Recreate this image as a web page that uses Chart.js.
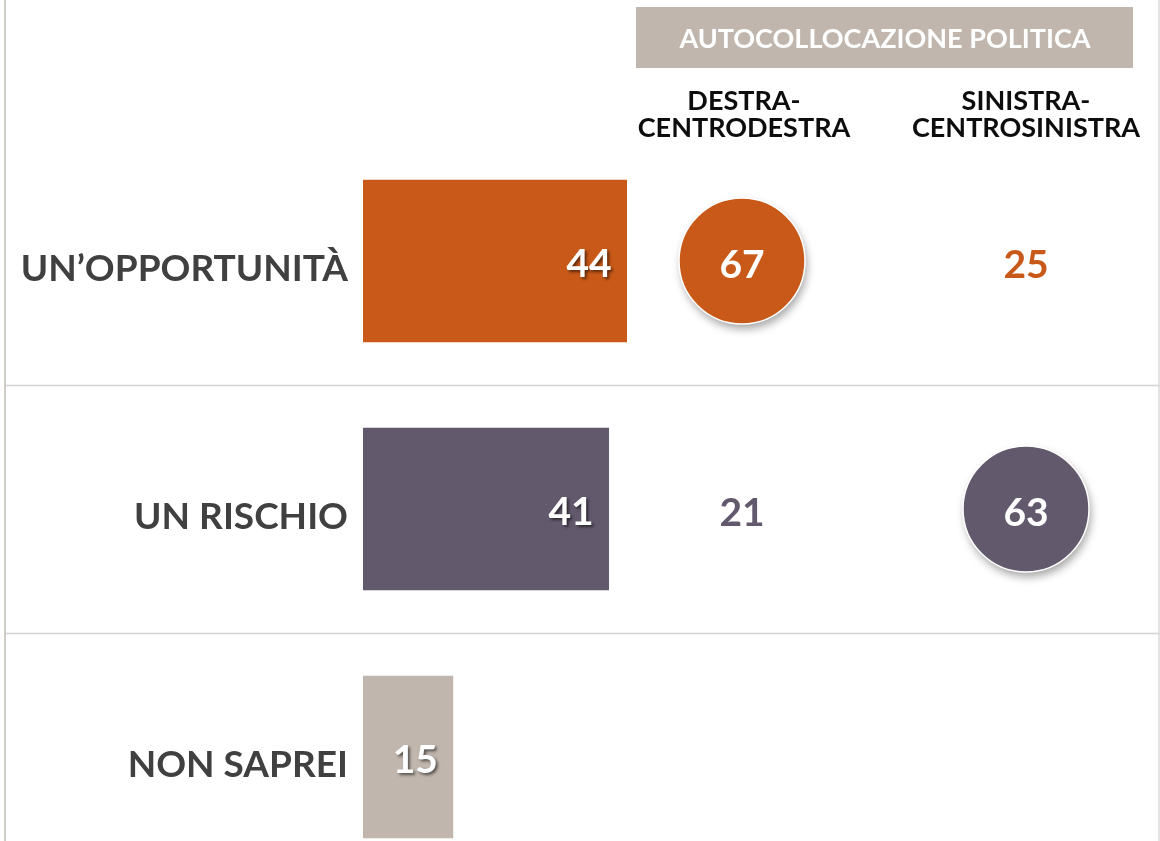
<!DOCTYPE html>
<html>
<head>
<meta charset="utf-8">
<script src="https://cdn.jsdelivr.net/npm/chart.js@4.4.1/dist/chart.umd.min.js"></script>
<style>
  html, body { margin: 0; padding: 0; background: #fff; overflow: hidden; }
  #wrap { position: relative; width: 1160px; height: 841px; overflow: hidden; }
  #chart { display: block; width: 1160px; height: 881px; }
</style>
</head>
<body>
<div id="wrap"><canvas id="chart" width="1160" height="881"></canvas></div>
<script>
// data
const categories = ['UN’OPPORTUNITÀ', 'UN RISCHIO', 'NON SAPREI'];
const totals = [44, 41, 15];
const destra = [67, 21, null];
const sinistra = [25, 63, null];
const groupTitle = 'AUTOCOLLOCAZIONE POLITICA';
const columnTitles = [['DESTRA-', 'CENTRODESTRA'], ['SINISTRA-', 'CENTROSINISTRA']];
const barColors = ['#C95918', '#63596D', '#C0B6AD'];

const FONT = "Lato, 'Open Sans', sans-serif";
const colX = [744, 1026];

Chart.defaults.font.family = FONT;

// frame, header, row separators, in-bar values and the two political columns
const decorPlugin = {
    id: 'decor',
    beforeDraw(chart) {
        const ctx = chart.ctx, y = chart.scales.y;
        ctx.save();
        ctx.fillStyle = '#fff';
        ctx.fillRect(0, 0, chart.width, chart.height);

        ctx.lineWidth = 1.5;
        ctx.strokeStyle = '#D3D3D3';
        for (let i = 1; i < categories.length; i++) {
            const py = Math.round((y.getPixelForValue(i - 1) + y.getPixelForValue(i)) / 2) + 0.5;
            ctx.beginPath(); ctx.moveTo(5, py); ctx.lineTo(chart.width, py); ctx.stroke();
        }
        ctx.strokeStyle = '#C4BCB4';
        ctx.beginPath(); ctx.moveTo(5, 0); ctx.lineTo(5, chart.height); ctx.stroke();
        ctx.strokeStyle = '#DADADA';
        ctx.beginPath(); ctx.moveTo(1159, 0); ctx.lineTo(1159, chart.height); ctx.stroke();

        // header box
        ctx.fillStyle = '#C0B6AD';
        ctx.fillRect(636, 7, 497, 61);
        ctx.fillStyle = '#fff';
        ctx.font = 'bold 27px ' + FONT;
        ctx.textAlign = 'center';
        ctx.textBaseline = 'middle';
        ctx.fillText(groupTitle, 885, 39);

        ctx.fillStyle = '#0D0D0D';
        columnTitles.forEach((lines, c) => {
            lines.forEach((t, k) => ctx.fillText(t, colX[c], 101 + k * 27));
        });
        ctx.restore();
    },
    afterDatasetsDraw(chart) {
        const ctx = chart.ctx, y = chart.scales.y;
        ctx.save();
        ctx.font = 'bold 39px ' + FONT;
        ctx.textBaseline = 'middle';

        // values inside bars
        ctx.textAlign = 'right';
        ctx.fillStyle = '#fff';
        ctx.shadowColor = 'rgba(0,0,0,0.55)';
        ctx.shadowBlur = 3;
        ctx.shadowOffsetX = 2;
        ctx.shadowOffsetY = 2;
        chart.getDatasetMeta(0).data.forEach((bar, i) => {
            ctx.fillText(totals[i], bar.x - 15, bar.y + 3);
        });
        ctx.shadowColor = 'transparent';

        // political columns: circle when the group is above the total
        ctx.textAlign = 'center';
        [destra, sinistra].forEach((vals, c) => {
            vals.forEach((v, i) => {
                if (v == null) return;
                const px = colX[c] - (c === 0 ? 2 : 0), py = y.getPixelForValue(i);
                if (v > totals[i]) {
                    ctx.save();
                    ctx.shadowColor = 'rgba(0,0,0,0.35)';
                    ctx.shadowBlur = 9;
                    ctx.shadowOffsetY = 5;
                    ctx.fillStyle = barColors[i];
                    ctx.beginPath(); ctx.arc(px, py, 63, 0, Math.PI * 2); ctx.fill();
                    ctx.restore();
                    ctx.strokeStyle = '#fff';
                    ctx.lineWidth = 1.5;
                    ctx.beginPath(); ctx.arc(px, py, 63, 0, Math.PI * 2); ctx.stroke();
                    ctx.fillStyle = '#fff';
                } else {
                    ctx.fillStyle = barColors[i];
                }
                ctx.fillText(v, px, py + 4);
            });
        });
        ctx.restore();
    }
};

new Chart(document.getElementById('chart'), {
    type: 'bar',
    data: {
        labels: categories,
        datasets: [{ data: totals, backgroundColor: barColors, barThickness: 162 }]
    },
    options: {
        indexAxis: 'y',
        responsive: false,
        maintainAspectRatio: false,
        animation: false,
        // canvas is 40px taller than the page: the third row runs off the bottom, as in the slide
        layout: { padding: { top: 137, left: 0, right: 0, bottom: 0 } },
        plugins: { legend: { display: false }, tooltip: { enabled: false } },
        scales: {
            x: { display: false, min: 0, max: 133 },
            y: {
                grid: { display: false, drawTicks: false },
                border: { display: false },
                ticks: { color: '#404040', font: { size: 37, weight: 'bold' }, padding: 15, labelOffset: 8 },
                afterFit: s => { s.width = 363; s.paddingTop = 0; s.paddingBottom = 0; }
            }
        }
    },
    plugins: [decorPlugin]
});
</script>
</body>
</html>
